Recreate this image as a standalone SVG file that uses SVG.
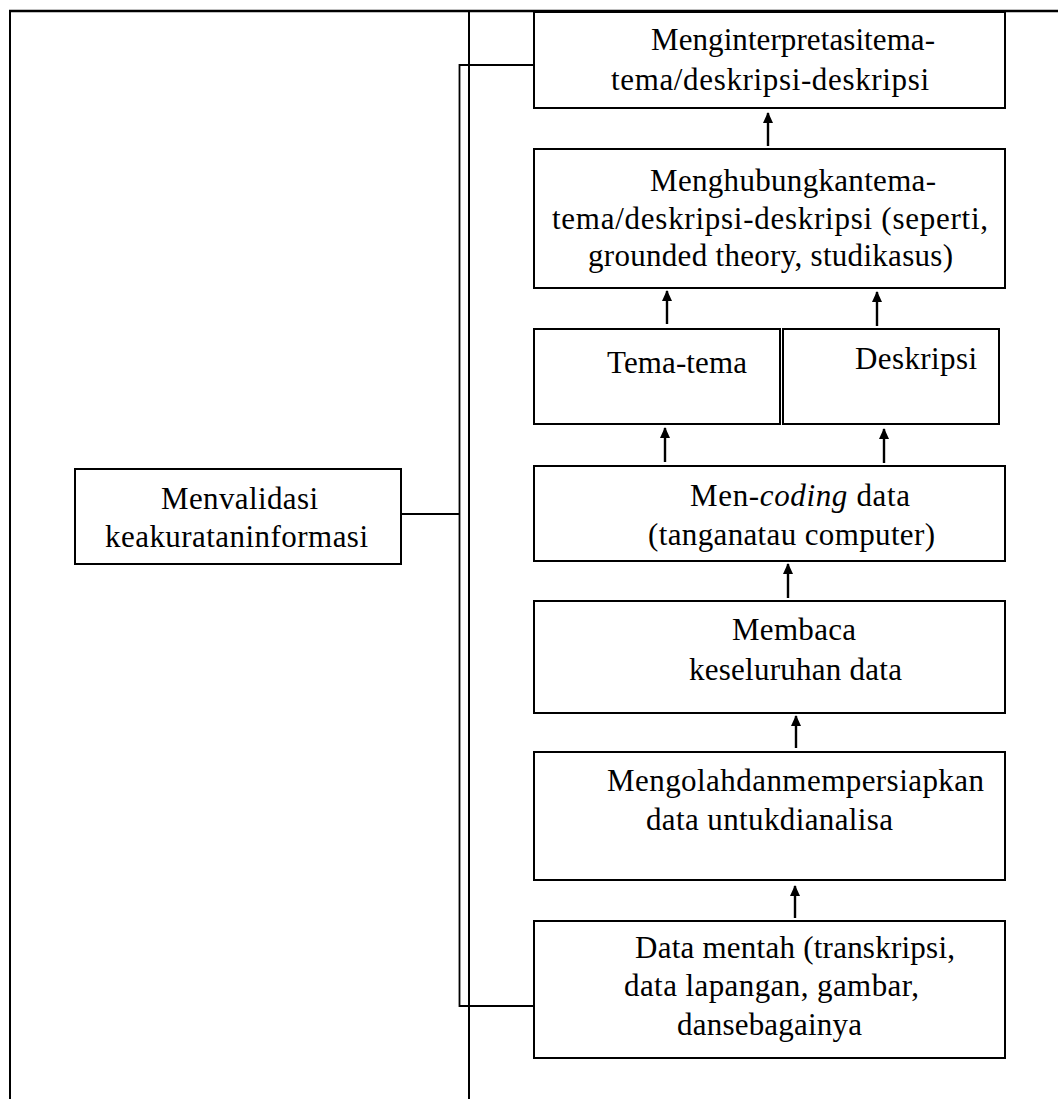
<svg xmlns="http://www.w3.org/2000/svg" width="1058" height="1099" viewBox="0 0 1058 1099">
<style>
.box{fill:#fff;stroke:#000;stroke-width:2}
.t{font-family:"Liberation Serif","Times New Roman",serif;font-size:31px;fill:#000}
.ln{fill:none;stroke:#000;stroke-width:1.8}
.ar{fill:none;stroke:#000;stroke-width:2.4;marker-end:url(#ah)}
</style>
<defs>
<marker id="ah" markerUnits="userSpaceOnUse" markerWidth="11" markerHeight="10" refX="10" refY="5" orient="auto">
<path d="M0,0 L11,5 L0,10 z" fill="#000"/>
</marker>
</defs>
<rect width="1058" height="1099" fill="#fff"/>
<g id="frame">
<line x1="9" y1="11" x2="1058" y2="11" stroke="#000" stroke-width="2.5"/>
<line x1="10" y1="10" x2="10" y2="1099" stroke="#000" stroke-width="2"/>
<line x1="469" y1="11" x2="469" y2="1099" stroke="#000" stroke-width="2"/>
</g>
<g id="connectors">
<path class="ln" d="M533,65 H459.5 V1006 H533"/>
<path class="ln" d="M401,514 H459.5"/>
<line class="ar" x1="768" y1="146" x2="768" y2="113"/>
<line class="ar" x1="667" y1="324" x2="667" y2="291"/>
<line class="ar" x1="877" y1="326" x2="877" y2="292"/>
<line class="ar" x1="665" y1="462" x2="665" y2="428"/>
<line class="ar" x1="884" y1="463" x2="884" y2="429"/>
<line class="ar" x1="788" y1="598" x2="788" y2="564"/>
<line class="ar" x1="796" y1="748" x2="796" y2="716"/>
<line class="ar" x1="795" y1="918" x2="795" y2="886"/>
</g>
<g id="n-interpretasi">
<rect class="box" x="534" y="12" width="471" height="96"/>
<text class="t" x="651" y="50" textLength="284" lengthAdjust="spacing">Menginterpretasitema-</text>
<text class="t" x="611" y="90" textLength="318" lengthAdjust="spacing">tema/deskripsi-deskripsi</text>
</g>
<g id="n-menghubungkan">
<rect class="box" x="534" y="149" width="471" height="139"/>
<text class="t" x="650" y="191" textLength="286" lengthAdjust="spacing">Menghubungkantema-</text>
<text class="t" x="552" y="229" textLength="436" lengthAdjust="spacing">tema/deskripsi-deskripsi (seperti,</text>
<text class="t" x="588" y="266" textLength="365" lengthAdjust="spacing">grounded theory, studikasus)</text>
</g>
<g id="n-tema">
<rect class="box" x="534" y="329" width="246" height="95"/>
<text class="t" x="607" y="373" textLength="140" lengthAdjust="spacing">Tema-tema</text>
</g>
<g id="n-deskripsi">
<rect class="box" x="783" y="329" width="216" height="95"/>
<text class="t" x="855" y="369" textLength="122" lengthAdjust="spacing">Deskripsi</text>
</g>
<g id="n-coding">
<rect class="box" x="534" y="466" width="471" height="95"/>
<text class="t" x="690" y="506" textLength="220" lengthAdjust="spacing">Men-<tspan font-style="italic">coding</tspan> data</text>
<text class="t" x="648" y="545" textLength="287" lengthAdjust="spacing">(tanganatau computer)</text>
</g>
<g id="n-membaca">
<rect class="box" x="534" y="601" width="471" height="112"/>
<text class="t" x="732" y="640" textLength="124" lengthAdjust="spacing">Membaca</text>
<text class="t" x="689" y="680" textLength="213" lengthAdjust="spacing">keseluruhan data</text>
</g>
<g id="n-mengolah">
<rect class="box" x="534" y="752" width="471" height="128"/>
<text class="t" x="607" y="791" textLength="377" lengthAdjust="spacing">Mengolahdanmempersiapkan</text>
<text class="t" x="646" y="830" textLength="247" lengthAdjust="spacing">data untukdianalisa</text>
</g>
<g id="n-datamentah">
<rect class="box" x="534" y="921" width="471" height="137"/>
<text class="t" x="635" y="958" textLength="320" lengthAdjust="spacing">Data mentah (transkripsi,</text>
<text class="t" x="624" y="996" textLength="295" lengthAdjust="spacing">data lapangan, gambar,</text>
<text class="t" x="677" y="1035" textLength="185" lengthAdjust="spacing">dansebagainya</text>
</g>
<g id="n-menvalidasi">
<rect class="box" x="75" y="469" width="326" height="95"/>
<text class="t" x="161" y="509" textLength="157" lengthAdjust="spacing">Menvalidasi</text>
<text class="t" x="105" y="547" textLength="263" lengthAdjust="spacing">keakurataninformasi</text>
</g>
</svg>
